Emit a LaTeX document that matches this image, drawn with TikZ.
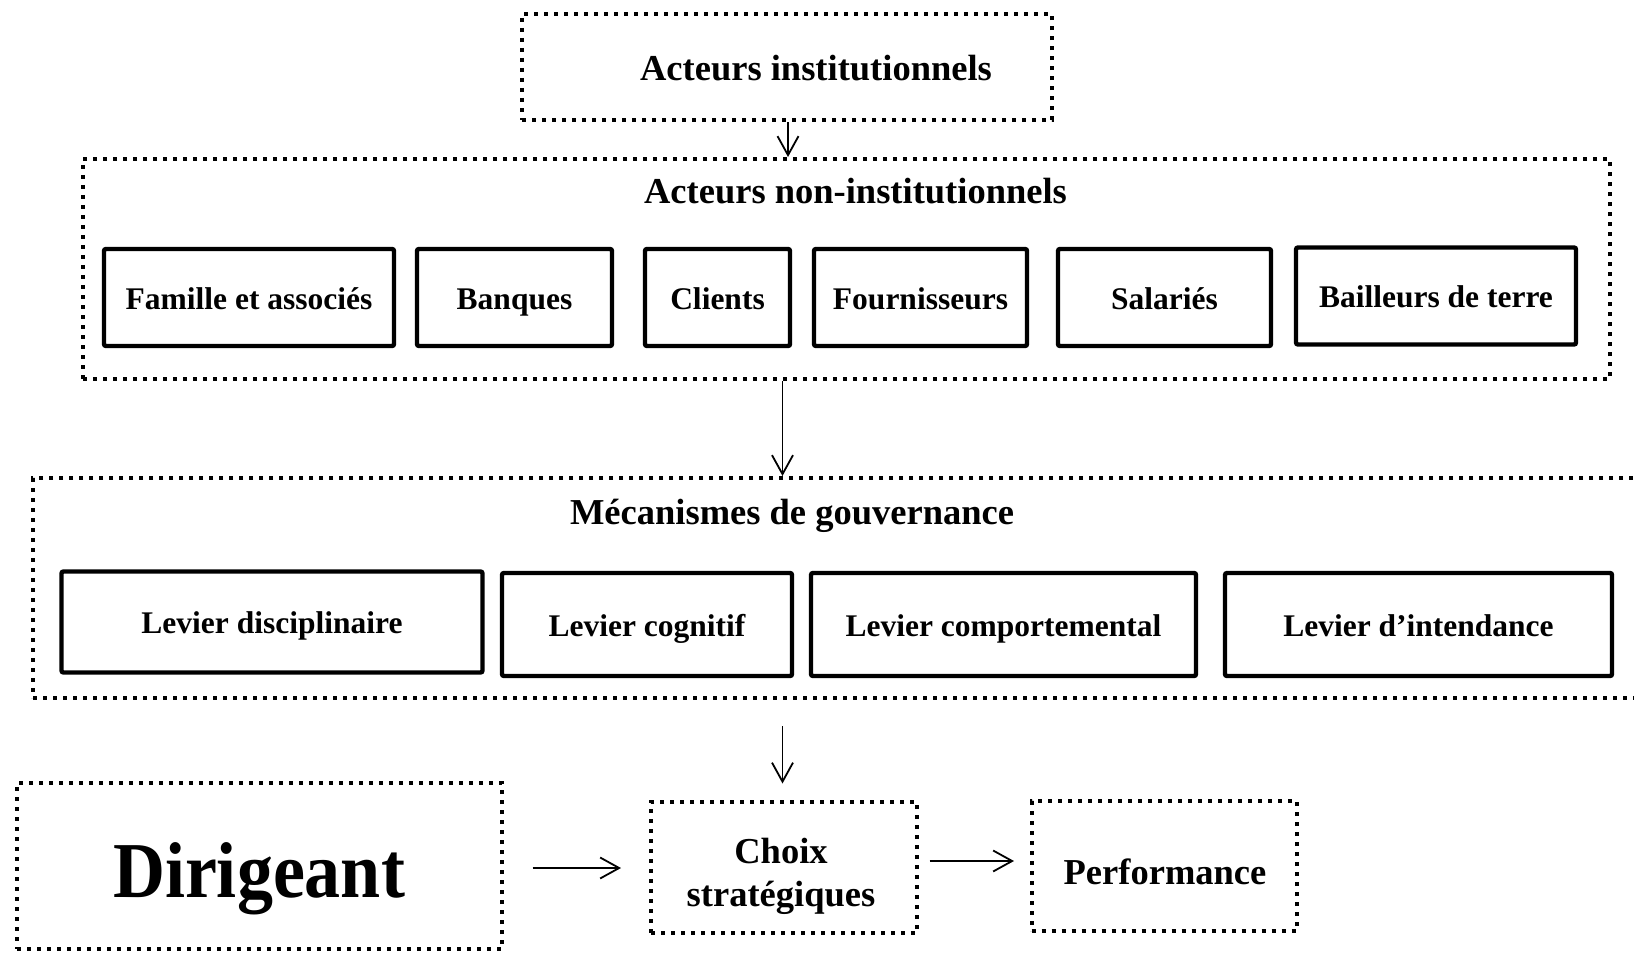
\documentclass[tikz,border=0pt]{standalone}
\usepackage{fontspec}
\setmainfont{Liberation Serif}
\usetikzlibrary{arrows.meta}

\tikzset{
  dotbox/.style={draw, line width=2pt, dash pattern=on 2pt off 3pt, inner sep=0pt},
  solidbox/.style={draw, line width=2.2pt, rounded corners=1pt, inner sep=0pt,
                   text height=11.5pt, text depth=0pt,
                   font=\bfseries\fontsize{15.75}{18}\selectfont},
  title/.style={inner sep=0pt, font=\bfseries\fontsize{18.25}{21.5}\selectfont},
  flow/.style={line width=0.9pt, -{Straight Barb[length=9.5pt, width=10.5pt, line width=0.9pt]}},
}

\begin{document}
\begin{tikzpicture}[x=0.5pt, y=-0.5pt]
  \useasboundingbox (0,0) rectangle (1634,953);
  \clip (0,0) rectangle (1634,953);

  % Institutional actors
  \node[dotbox, minimum width=265pt, minimum height=53pt] (ai) at (787,67) {};
  \node[title] (aiT) at (816,68) {Acteurs institutionnels};

  % Non-institutional actors
  \node[dotbox, minimum width=763.5pt, minimum height=110pt] (ani) at (846.5,269) {};
  \node[title] (aniT) at (855.5,191) {Acteurs non-institutionnels};
  \node[solidbox, minimum width=145pt, minimum height=48.5pt] (fam) at (249,297.5) {Famille et associés};
  \node[solidbox, minimum width=97.5pt, minimum height=48.5pt] (ban) at (514.5,297.5) {Banques};
  \node[solidbox, minimum width=72.5pt, minimum height=48.5pt] (cli) at (717.5,297.5) {Clients};
  \node[solidbox, minimum width=106.5pt, minimum height=48.5pt] (fou) at (920.5,297.5) {Fournisseurs};
  \node[solidbox, minimum width=106.5pt, minimum height=48.5pt] (sal) at (1164.5,297.5) {Salariés};
  \node[solidbox, minimum width=140pt, minimum height=48.5pt] (bai) at (1436,296) {Bailleurs de terre};

  % Governance mechanisms (the frame runs on past the right edge)
  \node[dotbox, minimum width=820pt, minimum height=110pt, anchor=north west] (mg) at (31,476) {};
  \node[title] (mgT) at (792,516) {Mécanismes de gouvernance};
  \node[solidbox, minimum width=210.5pt, minimum height=50.5pt] (dis) at (272,622) {Levier disciplinaire};
  \node[solidbox, minimum width=145pt, minimum height=51.5pt] (cog) at (647,624.5) {Levier cognitif};
  \node[solidbox, minimum width=192.5pt, minimum height=51.5pt] (com) at (1003.5,624.5) {Levier comportemental};
  \node[solidbox, minimum width=193.5pt, minimum height=51.5pt] (int) at (1418.5,624.5) {Levier d’intendance};

  % Bottom row
  \node[dotbox, minimum width=242.5pt, minimum height=83pt] (dir) at (259.5,866) {};
  \node[inner sep=0pt, font=\bfseries\fontsize{36}{40}\selectfont] (dirT) at (259,878.5)
    {\scalebox{1}[1.1]{Dirigeant}};
  \node[dotbox, minimum width=133pt, minimum height=65.5pt] (cho) at (784,867.5) {};
  \node[title, align=center] (choT) at (781,876) {Choix\hspace{6pt}\\[0pt]stratégiques};
  \node[dotbox, minimum width=132.5pt, minimum height=65pt] (per) at (1164,866) {};
  \node[title] (perT) at (1165,871.5) {Performance};

  % Connectors
  \coordinate (x1) at (788,0);
  \coordinate (x2) at (782.5,0);
  \coordinate (c3a) at (782.5,726);
  \coordinate (c3b) at (782.5,783.5);
  \coordinate (c4a) at (532.5,868);
  \coordinate (c4b) at (621,868);
  \coordinate (c5a) at (929.5,861);
  \coordinate (c5b) at (1014,861);

  \draw[flow] (ai.south -| x1) -- (ani.north -| x1);
  \draw[flow] (ani.south -| x2) -- (mg.north -| x2);
  \draw[flow] (c3a) -- (c3b);
  \draw[flow] (c4a) -- (c4b);
  \draw[flow] (c5a) -- (c5b);
\end{tikzpicture}
\end{document}
